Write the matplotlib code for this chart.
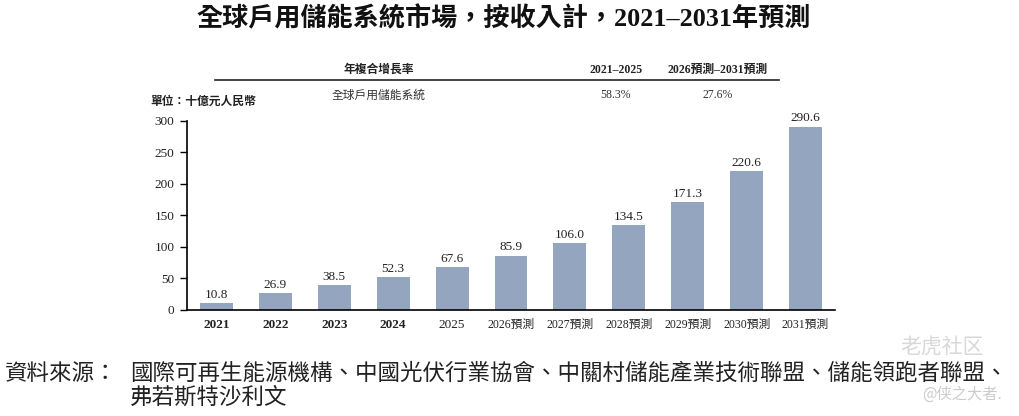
import matplotlib
matplotlib.use('Agg')
import matplotlib.pyplot as plt
from matplotlib.lines import Line2D
import numpy as np

# data
years = ['2021', '2022', '2023', '2024', '2025', '2026預測', '2027預測',
         '2028預測', '2029預測', '2030預測', '2031預測']
values = [10.8, 26.9, 38.5, 52.3, 67.6, 85.9, 106.0, 134.5, 171.3, 220.6, 290.6]
bold_years = ['2021', '2022', '2023', '2024']

cagr_header = ['年複合增長率', '2021–2025', '2026預測–2031預測']
cagr_row = ['全球戶用儲能系統', '58.3%', '27.6%']

title = '全球戶用儲能系統市場，按收入計，2021–2031年預測'
unit_label = '單位：十億元人民幣'
source_head = '資料來源：'
source_lines = ['國際可再生能源機構、中國光伏行業協會、中關村儲能產業技術聯盟、儲能領跑者聯盟、',
                '弗若斯特沙利文']

SERIF = ['Liberation Serif', 'Noto Sans CJK TC']
CJK = ['Noto Sans CJK TC', 'DejaVu Sans']
BAR_COLOR = '#94a5bf'
W, H = 1020, 416


def fx(px):
    return px / W


def fy(py):
    return 1 - py / H


fig = plt.figure(figsize=(10.2, 4.16), dpi=100)
fig.patch.set_facecolor('white')

ax = fig.add_axes([fx(187), fy(309.7), fx(835) - fx(187), fy(120.7) - fy(309.7)])
x = np.arange(len(years))
bars = ax.bar(x, values, width=0.56, color=BAR_COLOR)
ax.set_xlim(-0.5, 10.5)
ax.set_ylim(0, 300)
ax.set_yticks([0, 50, 100, 150, 200, 250, 300])
ax.tick_params(axis='y', direction='out', length=5, width=1, pad=4, labelsize=9.5)
for lab in ax.get_yticklabels():
    lab.set_family(SERIF)
    lab.set_color('#222222')
ax.set_xticks(x)
ax.set_xticklabels(years)
ax.tick_params(axis='x', length=0, pad=7)
for lab, yr in zip(ax.get_xticklabels(), years):
    lab.set_family(SERIF)
    lab.set_color('#222222')
    if yr in bold_years:
        lab.set_fontweight('bold')
        lab.set_fontsize(9.5)
    elif yr.isdigit():
        lab.set_fontsize(9.5)
    else:
        lab.set_fontsize(8.5)
for side in ['top', 'right']:
    ax.spines[side].set_visible(False)
ax.spines['left'].set_linewidth(1.2)
ax.spines['bottom'].set_linewidth(1.2)

for xi, v in zip(x, values):
    ax.text(xi, v + 3.5, f'{v:.1f}', ha='center', va='bottom', fontsize=9.5,
            family=SERIF, color='#222222')

# title
fig.text(fx(504), fy(18), title, ha='center', va='center', fontsize=18.8,
         fontweight='bold', family=SERIF, color='#111111')

# CAGR table
col_x = [379, 616, 718]
for cx, txt in zip(col_x, cagr_header):
    fig.text(fx(cx), fy(70), txt, ha='center', va='center', fontsize=8.5,
             fontweight='bold', family=SERIF, color='#222222')
for cx, txt in zip(col_x, cagr_row):
    fig.text(fx(cx), fy(95.5), txt, ha='center', va='center', fontsize=8.5,
             family=SERIF, color='#333333')
fig.add_artist(Line2D([fx(215), fx(779)], [fy(79.5), fy(79.5)], color='#222222', lw=1.2))

fig.text(fx(150), fy(102), unit_label, ha='left', va='center', fontsize=8.5,
         fontweight='bold', family=SERIF, color='#222222')

# source
fig.text(fx(5), fy(373), source_head, ha='left', va='center', fontsize=16.2,
         family=CJK, color='#222222')
fig.text(fx(130), fy(373), source_lines[0], ha='left', va='center', fontsize=16.2,
         family=CJK, color='#222222')
fig.text(fx(130), fy(397), source_lines[1], ha='left', va='center', fontsize=16.2,
         family=CJK, color='#222222')

# watermark
fig.text(fx(942), fy(347), '老虎社区', ha='center', va='center', fontsize=15,
         family=['Noto Sans CJK SC'], color='#d8d8d8')
fig.text(fx(962), fy(394), '@侠之大者.', ha='center', va='center', fontsize=11,
         family=['Noto Sans CJK SC'], color='#cccccc')

fig.savefig('out.png', dpi=100)
